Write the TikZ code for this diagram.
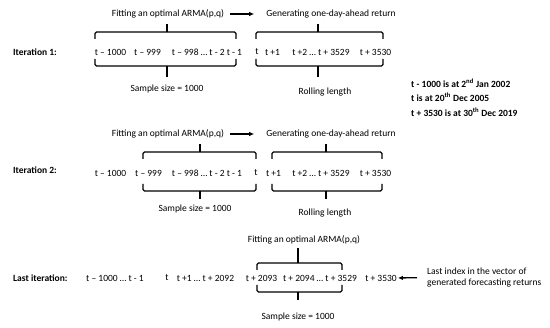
\documentclass[tikz,border=0pt]{standalone}
\usepackage{fontspec}
\setmainfont{Carlito}
\usetikzlibrary{arrows.meta}
\begin{document}
\begin{tikzpicture}[x=1pt,y=-1pt,font=\fontsize{9.5}{11.5}\selectfont,
  lbl/.style={inner sep=0pt},
  brc/.style={line width=1.3pt,rounded corners=1.5pt},
  arr/.style={line width=1.3pt,-{Latex[length=5pt,width=4.5pt]}}]
\useasboundingbox (0,0) rectangle (550,328);
\node[lbl,anchor=west] (ita) at (13,52) {\textbf{Iteration 1:}};
\node[lbl,anchor=west] (itb) at (13,170) {\textbf{Iteration 2:}};
\node[lbl,anchor=west] (itc) at (13,278) {\textbf{Last iteration:}};
\foreach \x/\t [count=\k] in {110.5/{t – 1000},147.5/{t – 999},207/{t – 998 … t - 2 t - 1},257/t,272.5/{t +1},321/{t +2 … t + 3529},375.5/{t + 3530}}
  \node[lbl] (ra\k) at (\x,52) {\t};
\foreach \x/\t [count=\k] in {110.5/{t – 1000},148.5/{t – 999},207/{t – 998 … t - 2 t - 1},256/t,273.5/{t +1},321/{t +2 … t + 3529},375.5/{t + 3530}}
  \node[lbl] (rb\k) at (\x,173) {\t};
\foreach \x/\t [count=\k] in {115/{t – 1000 … t - 1},167/t,205.5/{t +1 … t + 2092},261.5/{t + 2093},320/{t + 2094 … t + 3529},381/{t + 3530}}
  \node[lbl] (rc\k) at (\x,278) {\t};
\foreach \l/\r/\c/\a/\b/\p/\q in {95/236/167/32/66/8/11,256/383/318/32/66/8/11,143/256/200/152/191/8/8,272/382/326/152/191/8/8,257/342/298/263/292/15/8} {
  \draw[brc] (\l,\a+7) -- (\l,\a) -- (\r,\a) -- (\r,\a+7);
  \draw[brc] (\c,\a) -- (\c,\a-\p);
  \draw[brc] (\l,\b-7) -- (\l,\b) -- (\r,\b) -- (\r,\b-7);
  \draw[brc] (\c,\b) -- (\c,\b+\q);
}
\node[lbl] (fita) at (168,14) {Fitting an optimal ARMA(p,q)};
\node[lbl] (gena) at (331,14) {Generating one-day-ahead return};
\node[lbl] (sama) at (167,89) {Sample size = 1000};
\node[lbl] (rola) at (325,92) {Rolling length};
\node[lbl] (fitb) at (168,134) {Fitting an optimal ARMA(p,q)};
\node[lbl] (genb) at (331,134) {Generating one-day-ahead return};
\node[lbl] (samb) at (195,209) {Sample size = 1000};
\node[lbl] (rolb) at (325,213) {Rolling length};
\node[lbl] (fitc) at (304,240) {Fitting an optimal ARMA(p,q)};
\node[lbl] (samc) at (298,317) {Sample size = 1000};
\draw[arr,shorten <=6pt,shorten >=12pt] (fita) -- (gena);
\draw[arr,shorten <=6pt,shorten >=12pt] (fitb) -- (genb);
\node[lbl,anchor=west] (nta) at (411,83) {\textbf{t - 1000 is at 2\textsuperscript{nd} Jan 2002}};
\node[lbl,anchor=west] (ntb) at (411,97) {\textbf{t is at 20\textsuperscript{th} Dec 2005}};
\node[lbl,anchor=west] (ntc) at (411,112) {\textbf{t + 3530 is at 30\textsuperscript{th} Dec 2019}};
\node[lbl,anchor=west,align=left] (last) at (427,277.5) {Last index in the vector of\\generated forecasting returns};
\draw[arr,shorten <=10pt,shorten >=1pt] (last.west) -- (rc6.east);
\end{tikzpicture}
\end{document}
